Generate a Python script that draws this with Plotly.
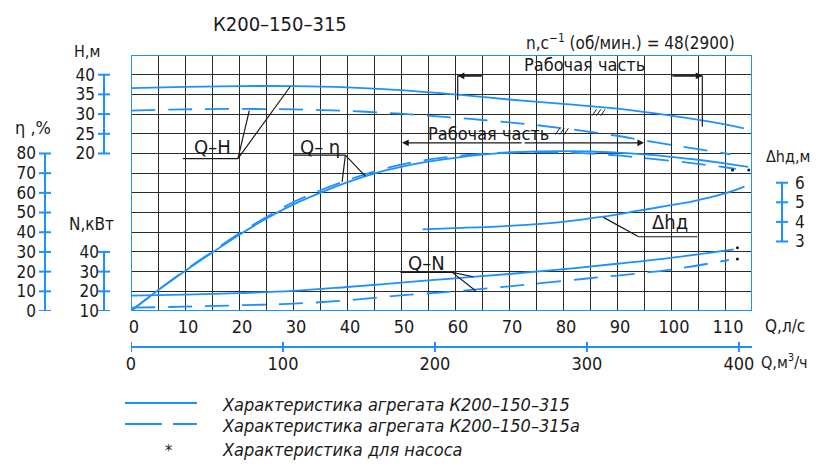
import plotly.graph_objects as go

# ---------------- data ----------------
Q_ticks = [0, 10, 20, 30, 40, 50, 60, 70, 80, 90, 100, 110]
Qm3_ticks = [0, 100, 200, 300, 400]
H_ticks = [20, 25, 30, 35, 40]
eta_ticks = [0, 10, 20, 30, 40, 50, 60, 70, 80]
N_ticks = [10, 20, 30, 40]
dh_ticks = [3, 4, 5, 6]

# Q-H, aggregate K200-150-315 (solid)
Q_H = [0, 10, 20, 30, 40, 50, 60, 70, 80, 90, 100, 110, 113.5]
H_s = [36.6, 36.9, 37.1, 37.1, 36.8, 36.1, 35.0, 33.7, 32.6, 31.4, 29.6, 27.4, 26.4]
# Q-H, K200-150-315a (dashed)
Q_Hd = [0, 10, 20, 30, 40, 50, 55, 60, 65, 70, 75, 80, 85, 90, 95, 100, 105, 111]
H_d = [30.9, 31.2, 31.3, 31.2, 30.8, 30.1, 29.6, 29.1, 28.5, 27.9, 27.2, 26.4, 25.5, 24.5, 23.3, 22.2, 21.1, 19.8]

# Q-eta
Q_eta = [0, 5, 10, 15, 20, 25, 30, 35, 40, 45, 50, 55, 60, 65, 70, 75, 80, 85, 90, 95, 100, 105, 110, 114.3]
eta_s = [0, 10.5, 20.3, 29.6, 38.6, 46.8, 54.0, 60.0, 65.3, 69.8, 73.2, 75.8, 77.8, 79.4, 80.4, 81.0, 81.2, 81.0, 80.4, 79.5, 78.3, 76.8, 75.0, 73.2]
Q_etad = [0, 5, 10, 15, 20, 25, 30, 35, 40, 45, 50, 55, 60, 65, 70, 75, 80, 85, 90, 95, 100, 105, 110, 112]
eta_d = [0, 10.6, 20.6, 30.0, 39.3, 47.6, 55.2, 61.2, 66.4, 70.8, 74.3, 76.9, 78.6, 79.8, 80.5, 80.7, 80.4, 79.9, 79.0, 77.7, 76.3, 74.7, 73.0, 72.2]

# Q-N
Q_N = [0, 10, 20, 30, 40, 50, 60, 70, 80, 90, 100, 111.6]
N_s = [17.8, 18.3, 19.1, 20.2, 22.2, 24.4, 26.6, 28.8, 31.2, 34.0, 37.0, 41.3]
Q_Nd = [0, 10, 20, 30, 40, 50, 60, 70, 80, 90, 100, 110.7]
N_d = [11.7, 12.2, 12.9, 13.7, 15.4, 17.9, 20.0, 22.5, 25.3, 28.0, 31.0, 35.9]

# Q-dh
Q_dh = [54, 60, 70, 80, 87, 94, 100, 104, 110, 113.6]
dh = [3.62, 3.68, 3.80, 4.00, 4.25, 4.57, 4.85, 5.05, 5.45, 5.80]

# pump-only points (*)
Q_pump_eta = [111.4, 114.4]
eta_pump = [71.6, 71.6]
Q_pump_N = [112.3, 112.3]
N_pump = [42.1, 36.4]

# working ranges (Q, l/s)
work_solid = [60.5, 105.8]
work_dashed = [50.2, 95.0]

# ---------------- layout helpers ----------------
PAGE_W, PAGE_H = 819, 466
OFF = 8  # default page body margin
W, HGT = PAGE_W - OFF, PAGE_H - OFF
BLUE = "#1E90FF"
GRID = "#2a2a2a"
INK = "#1a1a1a"
FONT = "DejaVu Sans Condensed, Liberation Sans Narrow, sans-serif"


def px(x):
    return (x - OFF) / W


def py(y):
    return 1 - (y - OFF) / HGT


fig = go.Figure()

line_s = dict(color=BLUE, width=1.8)
line_d = dict(color=BLUE, width=1.8, dash="24px,13px")

fig.add_trace(go.Scatter(x=Q_H, y=H_s, mode="lines", line=dict(**line_s, shape="spline"), yaxis="y"))
fig.add_trace(go.Scatter(x=Q_Hd, y=H_d, mode="lines", line=dict(**line_d, shape="spline"), yaxis="y"))
fig.add_trace(go.Scatter(x=Q_eta, y=eta_s, mode="lines", line=dict(**line_s, shape="spline"), yaxis="y2"))
fig.add_trace(go.Scatter(x=Q_etad, y=eta_d, mode="lines", line=dict(**line_d, shape="spline"), yaxis="y2"))
fig.add_trace(go.Scatter(x=Q_N, y=N_s, mode="lines", line=dict(**line_s, shape="spline"), yaxis="y3"))
fig.add_trace(go.Scatter(x=Q_Nd, y=N_d, mode="lines", line=dict(**line_d, shape="spline"), yaxis="y3"))
fig.add_trace(go.Scatter(x=Q_dh, y=dh, mode="lines", line=dict(**line_s, shape="spline"), yaxis="y4"))
fig.add_trace(go.Scatter(x=Q_pump_eta, y=eta_pump, mode="markers", marker=dict(color=INK, size=3), yaxis="y2"))
fig.add_trace(go.Scatter(x=Q_pump_N, y=N_pump, mode="markers", marker=dict(color=INK, size=3), yaxis="y3"))
# carrier for the m3/h axis
fig.add_trace(go.Scatter(x=Qm3_ticks, y=[-100] * len(Qm3_ticks), mode="markers", opacity=0,
                         xaxis="x2", yaxis="y", hoverinfo="skip"))

XD = [px(131), px(752)]
YD = [py(311), py(55)]
tickfont_l = dict(family=FONT, size=17, color=INK)

fig.update_layout(
    width=W, height=HGT, margin=dict(l=0, r=0, t=0, b=0, autoexpand=False),
    paper_bgcolor="white", plot_bgcolor="white", showlegend=False,
    font=dict(family=FONT, color=INK),
    xaxis=dict(domain=XD, range=[0, 115], anchor="y", tickvals=Q_ticks, showgrid=True, automargin=False,
               gridcolor=GRID, gridwidth=1.3, zeroline=False, showline=False, ticks="",
               minor=dict(dtick=5, tick0=0, showgrid=True, gridcolor=GRID, gridwidth=1.3),
               tickfont=dict(family=FONT, size=18, color=INK), ticklabelshift=3, ticklabelstandoff=3),
    xaxis2=dict(domain=XD, range=[0, 408.6], overlaying="x", anchor="free", position=py(347), automargin=False,
                side="bottom", tickvals=Qm3_ticks, showgrid=False, zeroline=False, showline=True,
                linecolor=BLUE, linewidth=2, ticks="", tickfont=dict(family=FONT, size=18, color=INK),
                ticklabelstandoff=0),
    yaxis=dict(domain=YD, range=[-20, 45], anchor="free", position=px(95), side="left", automargin=False,
               tickvals=H_ticks, showgrid=False, zeroline=False, showline=False, ticks="",
               minor=dict(dtick=5, tick0=0, showgrid=True, gridcolor=GRID, gridwidth=1.3),
               tickfont=tickfont_l),
    yaxis2=dict(range=[0, 130], overlaying="y", anchor="free", position=px(36), side="left", automargin=False,
                tickvals=eta_ticks, showgrid=False, zeroline=False, showline=False, ticks="",
                tickfont=tickfont_l),
    yaxis3=dict(range=[10, 140], overlaying="y", anchor="free", position=px(99), side="left", automargin=False,
                tickvals=N_ticks, showgrid=False, zeroline=False, showline=False, ticks="",
                tickfont=tickfont_l),
    yaxis4=dict(range=[-0.55, 12.52], overlaying="y", anchor="free", position=px(794), side="right",
                automargin=False, tickvals=dh_ticks, showgrid=False, zeroline=False, showline=False,
                ticks="", tickfont=tickfont_l),
)

shapes = []
# blue frame of plot area
shapes.append(dict(type="rect", xref="x", yref="y", x0=0, x1=115, y0=-20, y1=45,
                   line=dict(color=BLUE, width=2)))


def ruler(xc, yref, vals, half=6):
    out = [dict(type="line", xref="paper", yref=yref, x0=px(xc), x1=px(xc), y0=min(vals), y1=max(vals),
                line=dict(color=BLUE, width=2))]
    for v in vals:
        out.append(dict(type="line", xref="paper", yref=yref, x0=px(xc - half), x1=px(xc + half),
                        y0=v, y1=v, line=dict(color=BLUE, width=2)))
    return out


shapes += ruler(104, "y", H_ticks)
shapes += ruler(45, "y2", eta_ticks)
shapes += ruler(104, "y3", N_ticks)
shapes += ruler(782, "y4", dh_ticks)

# m3/h axis ticks (crossing)
for v in Qm3_ticks:
    shapes.append(dict(type="line", xref="x2", yref="paper", x0=v, x1=v, y0=py(352), y1=py(342),
                       line=dict(color=BLUE, width=2)))


def seg(xr, yr, x0, y0, x1, y1, w=1.2):
    return dict(type="line", xref=xr, yref=yr, x0=x0, y0=y0, x1=x1, y1=y1, line=dict(color=INK, width=w))


# Q-H leader
shapes.append(seg("x", "y", 9.6, 18.7, 19.8, 18.7))
shapes.append(seg("x", "y", 19.8, 18.7, 29.5, 37.0))
shapes.append(seg("x", "y", 19.8, 18.7, 21.9, 30.9))
# Q-eta leader
shapes.append(seg("x", "y2", 30.0, 79.2, 39.7, 79.2))
shapes.append(seg("x", "y2", 39.7, 79.2, 43.4, 68.5))
shapes.append(seg("x", "y2", 39.7, 79.2, 39.1, 65.6))
# Q-N leader
shapes.append(seg("x", "y3", 49.9, 29.6, 59.5, 29.6))
shapes.append(seg("x", "y3", 59.5, 29.6, 63.4, 27.4))
shapes.append(seg("x", "y3", 59.5, 29.6, 63.8, 20.3))
# dh leader
shapes.append(seg("x", "y4", 94.0, 3.24, 104.9, 3.24))
shapes.append(seg("x", "y4", 94.0, 3.24, 87.5, 4.23))
# working range bracket (solid)
shapes.append(seg("x", "y", work_solid[0], 39.7, work_solid[0], 33.6))
shapes.append(seg("x", "y", work_solid[0], 39.7, work_solid[0] + 4.6, 39.7))
shapes.append(seg("x", "y", work_solid[1], 39.7, work_solid[1], 26.8))
shapes.append(seg("x", "y", work_solid[1] - 5.6, 39.7, work_solid[1], 39.7))
# hatch marks on H curves
for d in [0, 0.8, 1.6]:
    shapes.append(seg("x", "y", 85.4 + d, 29.6, 86.2 + d, 31.2, 1))
    shapes.append(seg("x", "y", 78.6 + d, 24.8, 79.4 + d, 26.4, 1))

# legend (manual)
shapes.append(dict(type="line", xref="paper", yref="paper", x0=px(125), x1=px(197), y0=py(403), y1=py(403),
                   line=dict(color=BLUE, width=2)))
shapes.append(dict(type="line", xref="paper", yref="paper", x0=px(125), x1=px(162), y0=py(424), y1=py(424),
                   line=dict(color=BLUE, width=2)))
shapes.append(dict(type="line", xref="paper", yref="paper", x0=px(173), x1=px(197), y0=py(424), y1=py(424),
                   line=dict(color=BLUE, width=2)))

annotations = []


def txt(text, x, y, size=20, xref="paper", yref="paper", xanchor="center", yanchor="middle", italic=False):
    if italic:
        text = "<i>" + text + "</i>"
    annotations.append(dict(text=text, x=x, y=y, xref=xref, yref=yref, xanchor=xanchor, yanchor=yanchor,
                            showarrow=False, font=dict(family=FONT, size=size, color=INK)))


txt("К200–150–315", px(280), py(24), size=20)
txt("n,с<sup>−1</sup> (об/мин.) = 48(2900)", px(630), py(42), size=17)
txt("H,м", px(87), py(51), size=16)
txt("η ,%", px(33), py(127), size=18)
txt("N,кВт", px(91), py(224), size=17)
txt("Δhд,м", px(788), py(156), size=16)
txt("Q,л/с", px(785), py(326), size=17)
txt("Q,м<sup>3</sup>/ч", px(784), py(361), size=16)
txt("Рабочая часть", 84.0, 42.6, size=18, xref="x", yref="y")
txt("Рабочая часть", 66.2, 25.0, size=18, xref="x", yref="y")
txt("Q–H", 15.0, 21.7, size=20, xref="x", yref="y")
txt("Q– η", 35.0, 83.5, size=20, xref="x", yref="y2")
txt("Q–N", 54.7, 34.4, size=20, xref="x", yref="y3")
txt("Δhд", 99.9, 3.97, size=20, xref="x", yref="y4")
txt("Характеристика агрегата К200–150–315", px(220), py(404), size=18, xanchor="left", italic=True)
txt("Характеристика агрегата К200–150–315а", px(220), py(425), size=18, xanchor="left", italic=True)
txt("*", px(168), py(450), size=16)
txt("Характеристика для насоса", px(220), py(449), size=18, xanchor="left", italic=True)


def arrow(xh, yh, xt, yt, yref="y"):
    annotations.append(dict(x=xh, y=yh, ax=xt, ay=yt, xref="x", yref=yref, axref="x", ayref=yref,
                            text="", showarrow=True, arrowhead=2, arrowsize=1.1, arrowwidth=1.2,
                            arrowcolor=INK))


arrow(work_solid[0], 39.7, work_solid[0] + 4.6, 39.7)
arrow(work_solid[1], 39.7, work_solid[1] - 5.6, 39.7)
mid = (work_dashed[0] + work_dashed[1]) / 2
arrow(work_dashed[0], 22.7, mid, 22.7)
arrow(work_dashed[1], 22.7, mid, 22.7)

fig.update_layout(shapes=shapes, annotations=annotations)
fig.write_html("out.html")
